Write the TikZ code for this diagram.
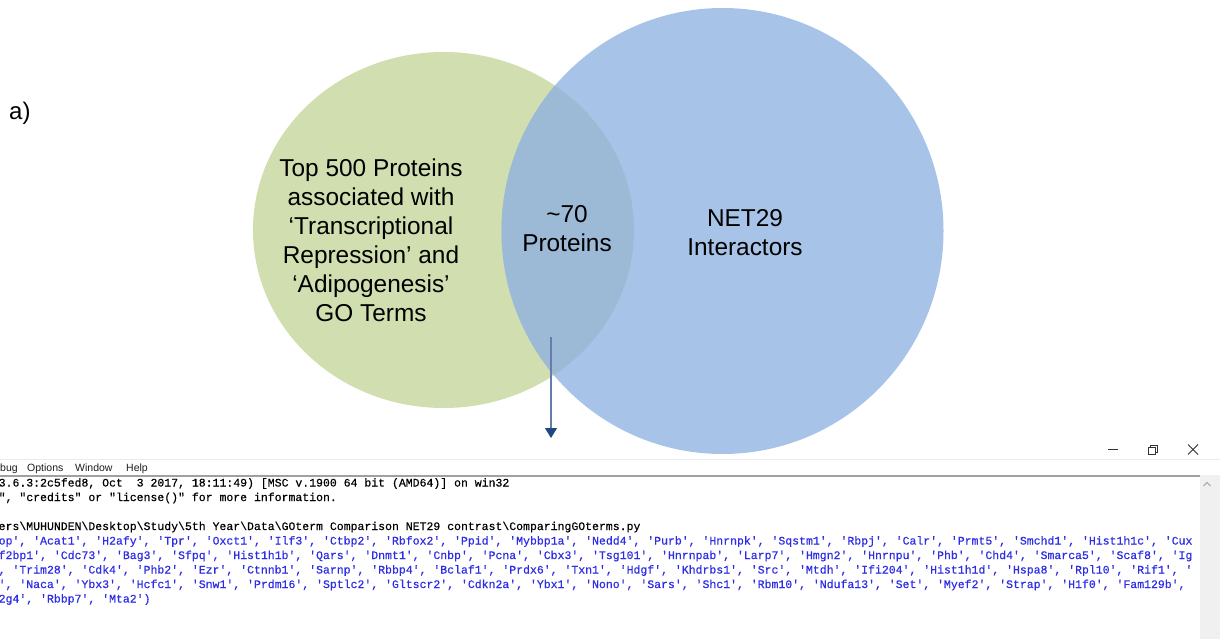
\documentclass[tikz,border=0pt]{standalone}
\usepackage{fontspec}
\setmainfont{Liberation Sans}
\newfontfamily\consolefont{Liberation Mono}[Ligatures=TeXOff, FakeBold=0.4]
\usetikzlibrary{arrows.meta}
\definecolor{vgreen}{RGB}{209,222,176}
\definecolor{vblue}{RGB}{167,196,232}
\definecolor{vover}{RGB}{156,186,214}
\definecolor{arrowhead}{RGB}{31,73,125}
\definecolor{arrowshaft}{RGB}{100,125,170}
\definecolor{listblue}{RGB}{45,45,230}
\definecolor{menugray}{RGB}{30,30,30}
\definecolor{scrollgray}{RGB}{240,240,240}
\definecolor{sepgray}{RGB}{160,160,160}
\definecolor{iconblack}{RGB}{50,50,50}
\begin{document}
\begin{tikzpicture}[x=1pt,y=-1pt,
  venntext/.style={font=\fontsize{24.4}{29}\selectfont, align=center, inner sep=0pt, text=black},
  conline/.style={font=\consolefont\fontsize{11.5}{14}\selectfont\frenchspacing, anchor=base west, inner sep=0pt},
  menuitem/.style={font=\fontsize{10.5}{12}\selectfont, anchor=base west, inner sep=0pt, text=menugray},
  iconline/.style={draw=iconblack, line width=0.8pt},
]
\useasboundingbox (0,0) rectangle (1220,639);
\clip (0,0) rectangle (1220,639);
\fill[white] (0,0) rectangle (1220,639);

% window chrome
\draw[black!8, line width=1pt] (0,459.5) -- (1220,459.5);
\fill[sepgray] (0,475) rectangle (1200,477);
\fill[scrollgray] (1200,475) rectangle (1220,639);
\draw[sepgray, line width=0.8pt] (1203.5,486) -- (1207,482.5) -- (1210.5,486);
\draw[iconline] (1108,449.5) -- (1118,449.5);
\draw[iconline] (1148.5,447.5) rectangle (1155.5,454.5);
\draw[iconline] (1150.5,447.5) -- (1150.5,445.5) -- (1157.5,445.5) -- (1157.5,452.5) -- (1155.5,452.5);
\draw[iconline] (1188,444.5) -- (1198,454.5);
\draw[iconline] (1188,454.5) -- (1198,444.5);

\node[menuitem] (mdebug) at (0,471.5) {bug};
\node[menuitem] (moptions) at (27,471.5) {Options};
\node[menuitem] (mwindow) at (75,471.5) {Window};
\node[menuitem] (mhelp) at (126,471.5) {Help};

% console text
\node[conline] (l1) at (-1.5,486.5) {3.6.3:2c5fed8, Oct\ \ 3 2017, 18:11:49) [MSC v.1900 64 bit (AMD64)] on win32};
\node[conline] (l2) at (-1.5,501) {", "credits" or "license()" for more information.};
\node[conline] (l4) at (-1.5,530) {ers\textbackslash MUHUNDEN\textbackslash Desktop\textbackslash Study\textbackslash 5th Year\textbackslash Data\textbackslash GOterm Comparison NET29 contrast\textbackslash ComparingGOterms.py};
\node[conline, text=listblue] (l5) at (-1.5,544.5) {op', 'Acat1', 'H2afy', 'Tpr', 'Oxct1', 'Ilf3', 'Ctbp2', 'Rbfox2', 'Ppid', 'Mybbp1a', 'Nedd4', 'Purb', 'Hnrnpk', 'Sqstm1', 'Rbpj', 'Calr', 'Prmt5', 'Smchd1', 'Hist1h1c', 'Cux};
\node[conline, text=listblue] (l6) at (-1.5,559) {f2bp1', 'Cdc73', 'Bag3', 'Sfpq', 'Hist1h1b', 'Qars', 'Dnmt1', 'Cnbp', 'Pcna', 'Cbx3', 'Tsg101', 'Hnrnpab', 'Larp7', 'Hmgn2', 'Hnrnpu', 'Phb', 'Chd4', 'Smarca5', 'Scaf8', 'Ig};
\node[conline, text=listblue] (l7) at (-1.5,573.5) {, 'Trim28', 'Cdk4', 'Phb2', 'Ezr', 'Ctnnb1', 'Sarnp', 'Rbbp4', 'Bclaf1', 'Prdx6', 'Txn1', 'Hdgf', 'Khdrbs1', 'Src', 'Mtdh', 'Ifi204', 'Hist1h1d', 'Hspa8', 'Rpl10', 'Rif1', '};
\node[conline, text=listblue] (l8) at (-1.5,588) {', 'Naca', 'Ybx3', 'Hcfc1', 'Snw1', 'Prdm16', 'Sptlc2', 'Gltscr2', 'Cdkn2a', 'Ybx1', 'Nono', 'Sars', 'Shc1', 'Rbm10', 'Ndufa13', 'Set', 'Myef2', 'Strap', 'H1f0', 'Fam129b',};
\node[conline, text=listblue] (l9) at (-1.5,602.5) {2g4', 'Rbbp7', 'Mta2')};

% Venn diagram
\fill[vgreen] (443.5,230) ellipse [x radius=190.5pt, y radius=178pt];
\fill[vblue] (722.5,231) ellipse [x radius=221pt, y radius=223pt];
\begin{scope}
  \clip (443.5,230) ellipse [x radius=190.5pt, y radius=178pt];
  \fill[vover] (722.5,231) ellipse [x radius=221pt, y radius=223pt];
\end{scope}

\node[venntext] (green) at (371,240.5) {Top 500 Proteins\\associated with\\‘Transcriptional\\Repression’ and\\‘Adipogenesis’\\GO Terms};
\node[venntext] (overlap) at (567,228.5) {\textasciitilde70\\Proteins};
\node[venntext] (net) at (745,232.5) {NET29\\Interactors};
\node[font=\fontsize{24}{28}\selectfont, anchor=base west, inner sep=0pt] (label) at (9,119.5) {a)};

\coordinate (arrowstart) at (551,337);
\coordinate (arrowend) at (551,438);
\draw[arrowshaft, line width=1.1pt, -{Triangle[width=12pt,length=10pt,fill=arrowhead,color=arrowhead]}] (arrowstart) -- (arrowend);
\end{tikzpicture}
\end{document}
